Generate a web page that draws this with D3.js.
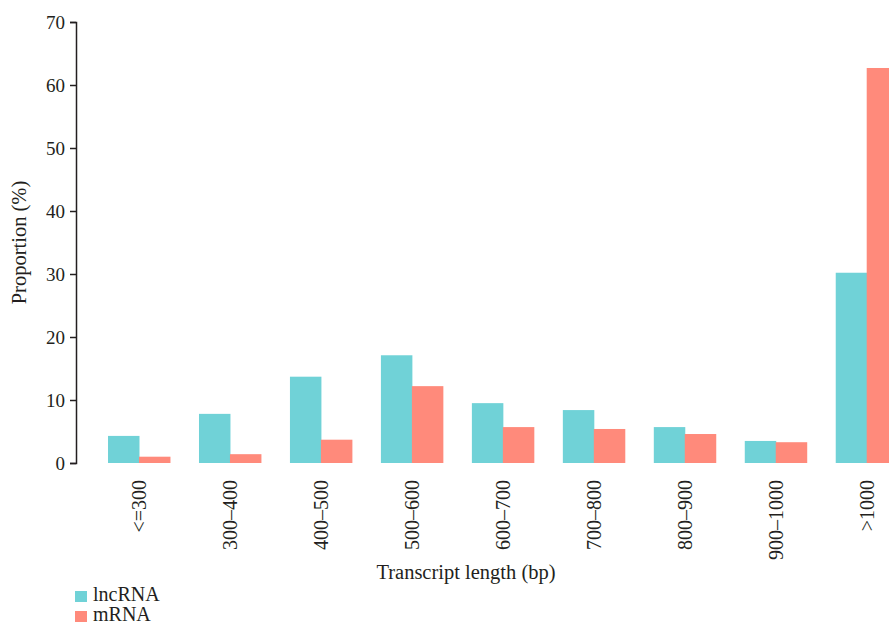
<!DOCTYPE html>
<html>
<head>
<meta charset="utf-8">
<script src="https://cdn.jsdelivr.net/npm/d3@7"></script>
<style>
  body { margin: 0; background: #fff; }
  svg text { font-family: "Liberation Serif", "DejaVu Serif", serif; fill: #231f20; }
</style>
</head>
<body>
<script>
// chart values
var categories = ["<=300", "300\u2013400", "400\u2013500", "500\u2013600", "600\u2013700", "700\u2013800", "800\u2013900", "900\u20131000", ">1000"];
var seriesNames = ["lncRNA", "mRNA"];
var lncRNA = [4.3, 7.8, 13.7, 17.1, 9.5, 8.4, 5.7, 3.5, 30.2];
var mRNA = [1.0, 1.4, 3.7, 12.2, 5.7, 5.4, 4.6, 3.3, 62.7];
var yTicks = [0, 10, 20, 30, 40, 50, 60, 70];
var colors = ["#70d2d7", "#ff8a7b"];

var width = 889, height = 624;
var svg = d3.select("body").append("svg")
  .attr("width", width)
  .attr("height", height);

// plot area
var plotLeft = 76, plotTop = 22, plotBottom = 463;

var y = d3.scaleLinear()
  .domain([0, 70])
  .range([plotBottom, plotTop]);

// band scale runs past the right edge, the last bar gets clipped like in the original
var x = d3.scaleBand()
  .domain(categories)
  .range([plotLeft, plotLeft + 853.7])
  .paddingInner(0.319)
  .paddingOuter(0.352);

var xSub = d3.scaleBand()
  .domain(seriesNames)
  .range([0, x.bandwidth()]);

var rows = categories.map(function (c, i) {
  return { cat: c, values: [lncRNA[i], mRNA[i]] };
});

var groups = svg.selectAll("g.grp")
  .data(rows)
  .enter().append("g")
  .attr("class", "grp")
  .attr("transform", function (d) { return "translate(" + x(d.cat) + ",0)"; });

groups.selectAll("rect")
  .data(function (d) { return d.values.map(function (v, j) { return { name: seriesNames[j], v: v, j: j }; }); })
  .enter().append("rect")
  .attr("x", function (d) { return xSub(d.name); })
  .attr("y", function (d) { return y(d.v); })
  .attr("width", xSub.bandwidth() + 0.5)
  .attr("height", function (d) { return plotBottom - y(d.v); })
  .attr("fill", function (d) { return colors[d.j]; });

// y axis
var yAxis = d3.axisLeft(y)
  .tickValues(yTicks)
  .tickSize(6)
  .tickSizeOuter(6)
  .tickPadding(5);

var gy = svg.append("g")
  .attr("transform", "translate(" + plotLeft + ",0)")
  .call(yAxis);
gy.selectAll("path, line").attr("stroke", "#231f20").attr("stroke-width", 1.5);
gy.selectAll("text").attr("font-size", 19).attr("font-family", null);

// x labels (no axis line in the original)
var xAxis = d3.axisBottom(x).tickSize(0).tickPadding(0);
var gx = svg.append("g")
  .attr("transform", "translate(0," + plotBottom + ")")
  .call(xAxis);
gx.select(".domain").remove();
gx.selectAll("text")
  .attr("font-size", 20)
  .attr("font-family", null)
  .attr("text-anchor", "end")
  .attr("dy", "0.35em")
  .attr("transform", "translate(0,17) rotate(-90)")
  .attr("y", 0)
  .attr("x", 0);

// axis titles
svg.append("text")
  .attr("transform", "translate(26," + ((plotTop + plotBottom) / 2) + ") rotate(-90)")
  .attr("text-anchor", "middle")
  .attr("font-size", 20.5)
  .text("Proportion (%)");

svg.append("text")
  .attr("x", 466)
  .attr("y", 579)
  .attr("text-anchor", "middle")
  .attr("font-size", 20.5)
  .text("Transcript length (bp)");

// legend
var legend = svg.selectAll("g.leg")
  .data(seriesNames)
  .enter().append("g")
  .attr("class", "leg")
  .attr("transform", function (d, i) { return "translate(75," + (591 + i * 20) + ")"; });

legend.append("rect")
  .attr("width", 12)
  .attr("height", 11)
  .attr("fill", function (d, i) { return colors[i]; });

legend.append("text")
  .attr("x", 18)
  .attr("y", 10)
  .attr("font-size", 20)
  .text(function (d) { return d; });
</script>
</body>
</html>
